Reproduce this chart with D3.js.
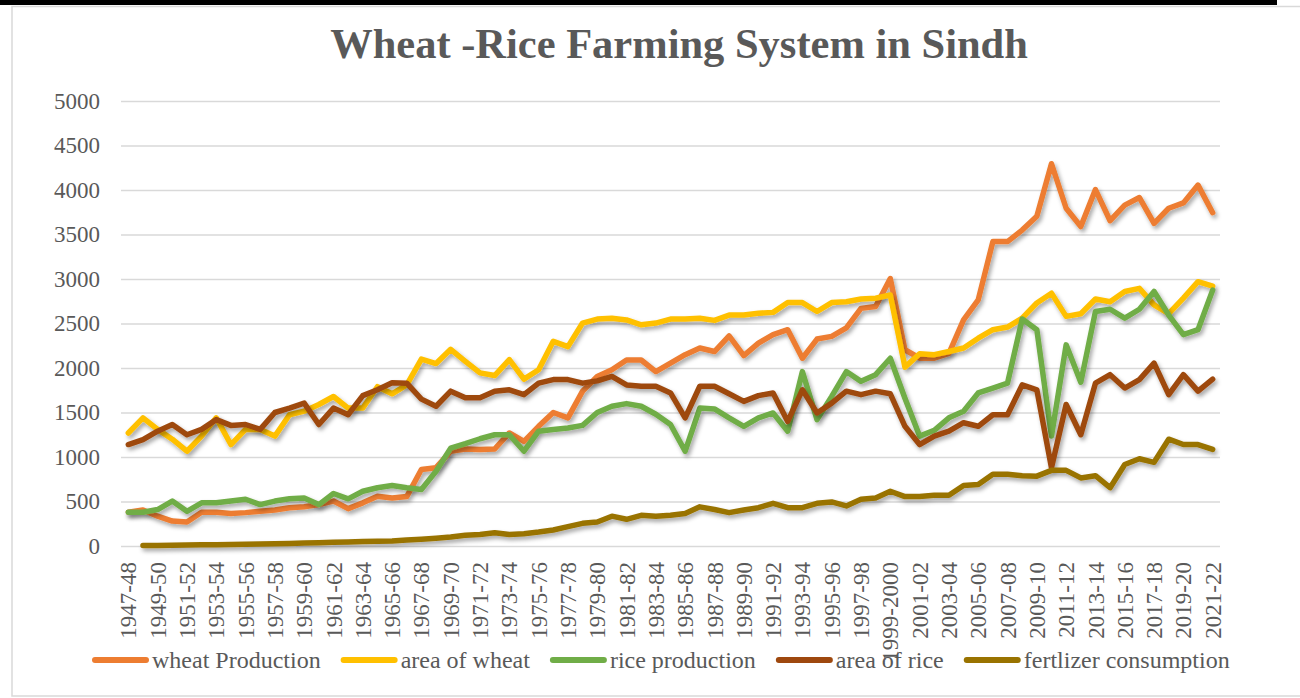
<!DOCTYPE html>
<html>
<head>
<meta charset="utf-8">
<script src="https://cdn.jsdelivr.net/npm/d3@7"></script>
<style>
  body { margin: 0; background: #fff; }
  svg text { font-family: "Liberation Serif", "Times New Roman", serif; fill: #595959; }
</style>
</head>
<body>
<div id="chart"></div>
<script>
// chart data *********************************
var categories = ['1947-48', '1948-49', '1949-50', '1950-51', '1951-52', '1952-53', '1953-54', '1954-55', '1955-56', '1956-57',
  '1957-58', '1958-59', '1959-60', '1960-61', '1961-62', '1962-63', '1963-64', '1964-65', '1965-66', '1966-67',
  '1967-68', '1968-69', '1969-70', '1970-71', '1971-72', '1972-73', '1973-74', '1974-75', '1975-76', '1976-77',
  '1977-78', '1978-79', '1979-80', '1980-81', '1981-82', '1982-83', '1983-84', '1984-85', '1985-86', '1986-87',
  '1987-88', '1988-89', '1989-90', '1990-91', '1991-92', '1992-93', '1993-94', '1994-95', '1995-96', '1996-97',
  '1997-98', '1998-99', '1999-2000', '2000-01', '2001-02', '2002-03', '2003-04', '2004-05', '2005-06', '2006-07',
  '2007-08', '2008-09', '2009-10', '2010-11', '2011-12', '2012-13', '2013-14', '2014-15', '2015-16', '2016-17',
  '2017-18', '2018-19', '2019-20', '2020-21', '2021-22'];

var wheatProduction = [380, 405, 335, 280, 270, 380, 380, 365, 375, 390,
  405, 430, 440, 465, 505, 420, 485, 560, 540, 555,
  860, 880, 1065, 1090, 1085, 1090, 1270, 1175, 1345, 1500,
  1440, 1740, 1905, 1980, 2090, 2090, 1960, 2055, 2150, 2225,
  2185, 2360, 2140, 2280, 2375, 2430, 2110, 2325, 2355, 2450,
  2670, 2690, 3005, 2205, 2110, 2110, 2165, 2540, 2765, 3420,
  3420, 3550, 3705, 4295, 3795, 3590, 4005, 3655, 3830, 3915,
  3625, 3795, 3855, 4055, 3745];

var areaOfWheat = [1270, 1440, 1310, 1200, 1065, 1235, 1440, 1140, 1310, 1310,
  1235, 1475, 1515, 1590, 1680, 1550, 1550, 1790, 1710, 1810,
  2100, 2050, 2210, 2075, 1945, 1915, 2095, 1875, 1980, 2300,
  2240, 2505, 2550, 2560, 2540, 2485, 2505, 2550, 2550, 2560,
  2535, 2595, 2595, 2615, 2625, 2735, 2735, 2635, 2735, 2745,
  2775, 2785, 2820, 2010, 2160, 2150, 2185, 2225, 2335, 2430,
  2460, 2560, 2730, 2840, 2580, 2610, 2775, 2745, 2860, 2895,
  2710, 2610, 2785, 2970, 2920];

var riceProduction = [380, 380, 410, 505, 390, 485, 485, 505, 525, 465,
  505, 530, 540, 465, 590, 530, 615, 655, 680, 655,
  635, 840, 1100, 1150, 1205, 1250, 1250, 1065, 1290, 1310,
  1325, 1355, 1500, 1570, 1600, 1570, 1480, 1365, 1065, 1550,
  1540, 1440, 1345, 1440, 1495, 1290, 1960, 1420, 1680, 1960,
  1850, 1925, 2110, 1660, 1235, 1300, 1440, 1515, 1720, 1775,
  1830, 2550, 2430, 1235, 2260, 1840, 2635, 2660, 2560, 2660,
  2860, 2595, 2375, 2430, 2875];

var areaOfRice = [1140, 1195, 1290, 1365, 1250, 1310, 1420, 1355, 1365, 1310,
  1500, 1550, 1605, 1365, 1550, 1475, 1690, 1755, 1835, 1830,
  1650, 1570, 1740, 1665, 1665, 1740, 1755, 1700, 1830, 1870,
  1870, 1830, 1855, 1905, 1810, 1795, 1795, 1720, 1440, 1795,
  1795, 1710, 1625, 1690, 1720, 1400, 1755, 1495, 1605, 1740,
  1700, 1740, 1710, 1345, 1140, 1235, 1290, 1385, 1345, 1475,
  1475, 1810, 1755, 880, 1590, 1250, 1830, 1925, 1775, 1870,
  2055, 1700, 1925, 1740, 1875];

var fertilizerConsumption = [null, 5, 7, 9, 11, 13, 15, 17, 20, 23,
  26, 29, 33, 37, 41, 45, 50, 53, 56, 67,
  75, 86, 100, 120, 130, 150, 130, 138, 157, 180,
  217, 255, 270, 335, 300, 345, 335, 345, 365, 440,
  410, 375, 405, 430, 480, 430, 430, 480, 495, 450,
  525, 540, 615, 555, 555, 570, 570, 680, 690, 805,
  805, 790, 785, 850, 850, 765, 790, 655, 915, 980,
  940, 1200, 1140, 1140, 1085];

var seriesNames = ['wheat Production', 'area of wheat', 'rice production', 'area of rice', 'fertlizer consumption'];
var seriesColors = ['#ed7d31', '#ffc000', '#70ad47', '#9e480e', '#997300'];
var yTicks = [0, 500, 1000, 1500, 2000, 2500, 3000, 3500, 4000, 4500, 5000];

var series = [wheatProduction, areaOfWheat, riceProduction, areaOfRice, fertilizerConsumption]
  .map((values, i) => ({ name: seriesNames[i], color: seriesColors[i], values: values }));

// svg size and plot margins ***********
var svgWidth = 1300;
var svgHeight = 698;
var margin = { top: 101, right: 80, bottom: 152, left: 121 };
var width = svgWidth - margin.left - margin.right;
var height = svgHeight - margin.top - margin.bottom;

var svg = d3.select('#chart')
  .append('svg')
  .attr('width', svgWidth)
  .attr('height', svgHeight);

// shadow under the lines, like excel
svg.append('defs')
  .append('filter')
  .attr('id', 'shadow')
  .append('feDropShadow')
  .attr('dx', 2)
  .attr('dy', 3)
  .attr('stdDeviation', 2)
  .attr('flood-color', '#000')
  .attr('flood-opacity', 0.35);

// frame ***********
svg.append('rect')
  .attr('x', 0).attr('y', 0)
  .attr('width', 1277).attr('height', 5)
  .attr('fill', '#000');

svg.append('rect')
  .attr('x', 12).attr('y', 6.5)
  .attr('width', 1320).attr('height', 689.5)
  .attr('fill', 'none')
  .attr('stroke', '#d9d9d9')
  .attr('stroke-width', 1.5);

// title
svg.append('text')
  .attr('x', 679)
  .attr('y', 58)
  .attr('text-anchor', 'middle')
  .style('font-size', '42.5px')
  .style('font-weight', 'bold')
  .text('Wheat -Rice Farming System in Sindh');

var chart = svg.append('g')
  .attr('transform', `translate(${margin.left}, ${margin.top})`);

// scales ***********
var xScale = d3.scalePoint()
  .domain(categories)
  .range([0, width])
  .padding(0.5);

var yScale = d3.scaleLinear()
  .domain([0, 5000])
  .range([height, 0]);

// y axis with gridlines
var yAxis = chart.append('g')
  .call(d3.axisLeft(yScale).tickValues(yTicks).tickSize(-width).tickPadding(21).tickFormat(d3.format('d')));
yAxis.select('.domain').remove();
yAxis.selectAll('line').attr('stroke', '#d9d9d9').attr('stroke-width', 1.5);
yAxis.selectAll('text').style('font-size', '23px').attr('fill', '#595959');

// x axis, every other label rotated
var xAxis = chart.append('g')
  .attr('transform', `translate(0,${height})`)
  .call(d3.axisBottom(xScale).tickSize(0).tickValues(categories.filter((c, i) => i % 2 === 0)));
xAxis.select('.domain').remove();
xAxis.selectAll('text')
  .style('font-size', '23px')
  .attr('fill', '#595959')
  .attr('text-anchor', 'end')
  .attr('transform', 'rotate(-90)')
  .attr('x', -16)
  .attr('y', 0)
  .attr('dy', '0.33em');

// lines ***********
var line = d3.line()
  .defined(d => d.value !== null)
  .x(d => xScale(d.cat))
  .y(d => yScale(d.value));

chart.selectAll('.series')
  .data(series)
  .enter()
  .append('path')
  .attr('class', 'series')
  .attr('d', s => line(s.values.map((v, i) => ({ cat: categories[i], value: v }))))
  .attr('fill', 'none')
  .attr('stroke', s => s.color)
  .attr('stroke-width', 5.5)
  .attr('stroke-linejoin', 'round')
  .attr('stroke-linecap', 'round')
  .attr('filter', 'url(#shadow)');

// legend ***********
var legend = svg.append('g').attr('transform', 'translate(92, 660)');
var lx = 0;
series.forEach(function(s) {
  var item = legend.append('g').attr('transform', `translate(${lx},0)`);
  item.append('line')
    .attr('x1', 3).attr('x2', 54)
    .attr('stroke', s.color)
    .attr('stroke-width', 6)
    .attr('stroke-linecap', 'round');
  var t = item.append('text')
    .attr('x', 60)
    .attr('y', 8)
    .style('font-size', '24px')
    .text(s.name);
  lx += 60 + t.node().getComputedTextLength() + 20;
});
</script>
</body>
</html>
